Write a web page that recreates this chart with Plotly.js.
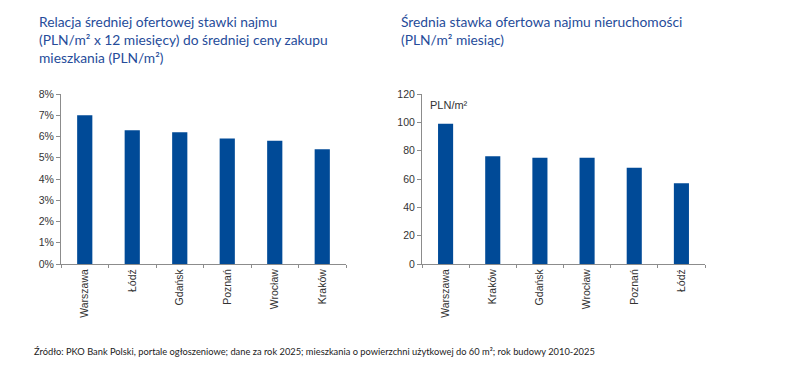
<!DOCTYPE html>
<html>
<head>
<meta charset="utf-8">
<script src="https://cdn.plot.ly/plotly-3.0.1.min.js"></script>
<style>html,body{margin:0;padding:0;background:#fff;}#chart{width:800px;height:368px;}</style>
</head>
<body>
<div id="chart"></div>
<script>
// Left chart: rent yield (%)
const leftCities = ["Warszawa", "Łódź", "Gdańsk", "Poznań", "Wrocław", "Kraków"];
const leftValues = [7.0, 6.3, 6.2, 5.9, 5.8, 5.4];
// Right chart: average offer rent (PLN/m2 per month)
const rightCities = ["Warszawa", "Kraków", "Gdańsk", "Wrocław", "Poznań", "Łódź"];
const rightValues = [99, 76, 75, 75, 68, 57];

const leftTitle = "Relacja średniej ofertowej stawki najmu<br>(PLN/m² x 12 miesięcy) do średniej ceny zakupu<br>mieszkania (PLN/m²)";
const rightTitle = "Średnia stawka ofertowa najmu nieruchomości<br>(PLN/m² miesiąc)";
const unitLabel = "PLN/m²";
const sourceText = "Źródło: PKO Bank Polski, portale ogłoszeniowe; dane za rok 2025; mieszkania o powierzchni użytkowej do 60 m²; rok budowy 2010-2025";

const barColor = "#004a97";
const titleColor = "#264c9a";
const tickFont = {family: "Liberation Sans, Arial, sans-serif", size: 10.5, color: "#333333"};

const traces = [
  {type: "bar", x: leftCities, y: leftValues, xaxis: "x", yaxis: "y",
   marker: {color: barColor}, width: 0.32, hoverinfo: "x+y"},
  {type: "bar", x: rightCities, y: rightValues, xaxis: "x2", yaxis: "y2",
   marker: {color: barColor}, width: 0.32, hoverinfo: "x+y"}
];

const yDom = [1 - 264/368, 1 - 94/368];
const axCommon = {
  showgrid: false, zeroline: false, showline: true, linecolor: "#8c8c8c", linewidth: 1,
  ticks: "outside", tickcolor: "#8c8c8c", ticklen: 4, tickfont: tickFont, fixedrange: true
};

const layout = {
  width: 800, height: 368,
  margin: {l: 0, r: 0, t: 0, b: 0},
  paper_bgcolor: "#ffffff", plot_bgcolor: "#ffffff",
  showlegend: false,
  xaxis: Object.assign({}, axCommon, {domain: [61/800, 346/800], anchor: "y",
    tickangle: -90, tickson: "boundaries", ticklen: 3}),
  yaxis: Object.assign({}, axCommon, {domain: yDom, anchor: "x", range: [0, 8],
    dtick: 1, ticksuffix: "%"}),
  xaxis2: Object.assign({}, axCommon, {domain: [422/800, 705/800], anchor: "y2",
    tickangle: -90, tickson: "boundaries", ticklen: 3}),
  yaxis2: Object.assign({}, axCommon, {domain: yDom, anchor: "x2", range: [0, 120],
    dtick: 20}),
  annotations: [
    {text: leftTitle, xref: "paper", yref: "paper", x: 37/800, y: 1 - 11/368,
     xanchor: "left", yanchor: "top", align: "left", showarrow: false,
     font: {family: "Lato, Open Sans, sans-serif", size: 13.8, color: titleColor}},
    {text: rightTitle, xref: "paper", yref: "paper", x: 399/800, y: 1 - 11/368,
     xanchor: "left", yanchor: "top", align: "left", showarrow: false,
     font: {family: "Lato, Open Sans, sans-serif", size: 13.8, color: titleColor}},
    {text: unitLabel, xref: "paper", yref: "paper", x: 428/800, y: 1 - 105/368,
     xanchor: "left", yanchor: "middle", align: "left", showarrow: false,
     font: {family: "Liberation Sans, Arial, sans-serif", size: 11, color: "#333333"}},
    {text: sourceText, xref: "paper", yref: "paper", x: 32/800, y: 1 - 351/368,
     xanchor: "left", yanchor: "middle", align: "left", showarrow: false,
     font: {family: "Lato, Open Sans, sans-serif", size: 9.3, color: "#222222"}}
  ]
};

Plotly.newPlot("chart", traces, layout, {displayModeBar: false, staticPlot: true});
</script>
</body>
</html>
